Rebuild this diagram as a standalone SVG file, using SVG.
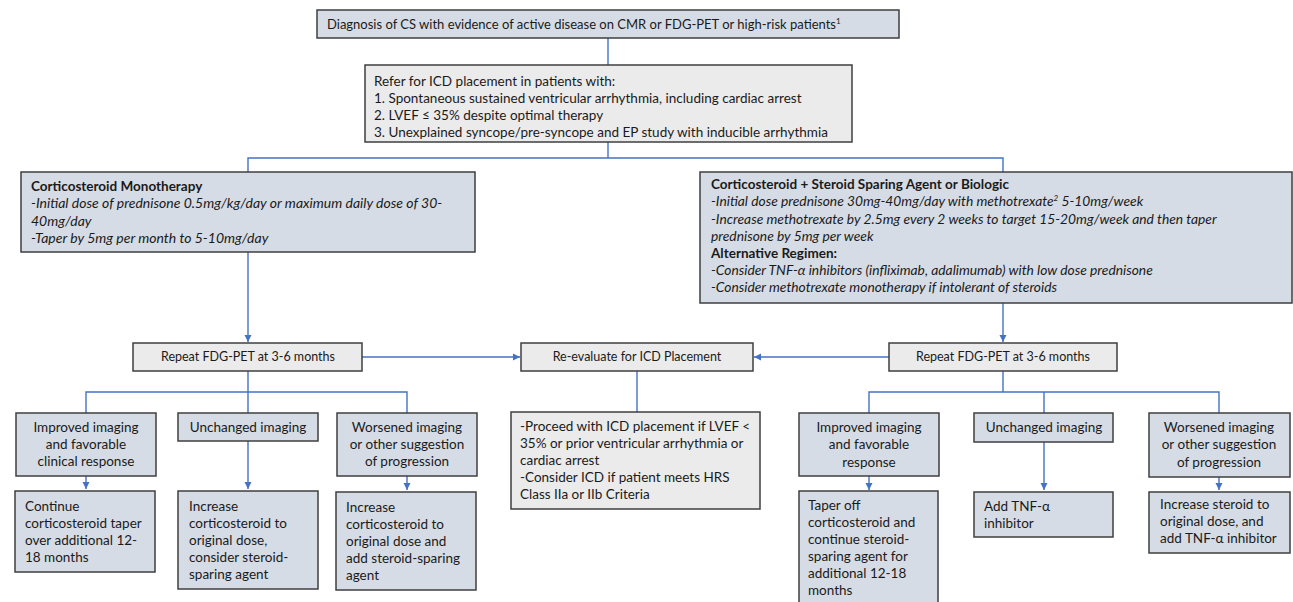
<svg xmlns="http://www.w3.org/2000/svg" width="1293" height="602" viewBox="0 0 1293 602">
<defs>
<marker id="arr" markerUnits="userSpaceOnUse" markerWidth="8" markerHeight="8" refX="7" refY="4" orient="auto">
<path d="M0,0.5 L7,4 L0,7.5 Z" fill="#4472C4"/>
</marker>
<style>
text{font-family:Lato,"Liberation Sans",sans-serif;font-size:12.5px;fill:#1a1a1a}
.blue{fill:#D6DCE5;stroke:#3F3F3F;stroke-width:1.5}
.gray{fill:#EBEBEB;stroke:#3F3F3F;stroke-width:1.5}
.c{text-anchor:middle}
.i{font-style:italic}
.b{font-weight:bold}
.lg{font-size:13.5px}
.top{font-size:13px}
.sup{font-size:8px}
#mono .i{font-size:14px}
#combo .i{font-size:13.8px}
#connectors path{fill:none;stroke:#4472C4;stroke-width:1.4}
</style>
</defs>
<rect width="1293" height="602" fill="#FFFFFF"/>
<g id="connectors">
<path d="M608 38 V65"/>
<path d="M608 142 V158 M248 172 V158 H1003 V172"/>
<path d="M248 251 V342" marker-end="url(#arr)"/>
<path d="M1003 303 V342" marker-end="url(#arr)"/>
<path d="M362 357 H520" marker-end="url(#arr)"/>
<path d="M889 357 H754" marker-end="url(#arr)"/>
<path d="M637 371 V412"/>
<path d="M248 371 V413 M86 413 V392 H407 V413"/>
<path d="M86 476 V489" marker-end="url(#arr)"/>
<path d="M248 441 V489" marker-end="url(#arr)"/>
<path d="M407 476 V490" marker-end="url(#arr)"/>
<path d="M1003 371 V392 M869 413 V392 H1219 V413 M1044 392 V413"/>
<path d="M869 476 V490" marker-end="url(#arr)"/>
<path d="M1044 442 V490" marker-end="url(#arr)"/>
<path d="M1219 477 V490" marker-end="url(#arr)"/>
</g>
<g id="diagnosis">
<rect class="blue" x="317" y="10" width="582" height="28"/>
<text class="top" x="327" y="29">Diagnosis of CS with evidence of active disease on CMR or FDG-PET or high-risk patients<tspan class="sup" dy="-5">1</tspan></text>
</g>
<g id="refer-icd">
<rect class="gray" x="365" y="65" width="487" height="77"/>
<text class="lg" x="374" y="86">Refer for ICD placement in patients with:</text>
<text class="lg" x="374" y="103">1. Spontaneous sustained ventricular arrhythmia, including cardiac arrest</text>
<text class="lg" x="374" y="120">2. LVEF ≤ 35% despite optimal therapy</text>
<text class="lg" x="374" y="137">3. Unexplained syncope/pre-syncope  and EP study with inducible arrhythmia</text>
</g>
<g id="mono">
<rect class="blue" x="21" y="172" width="454" height="80"/>
<text class="b lg" x="31" y="191">Corticosteroid Monotherapy</text>
<text class="i" x="31" y="208">-Initial dose of prednisone 0.5mg/kg/day or maximum daily dose of 30-</text>
<text class="i" x="31" y="226">40mg/day</text>
<text class="i" x="31" y="243">-Taper by 5mg per month to 5-10mg/day</text>
</g>
<g id="combo">
<rect class="blue" x="700" y="172" width="592" height="131"/>
<text class="b lg" x="711" y="189">Corticosteroid + Steroid Sparing Agent or Biologic</text>
<text class="i" x="711" y="206">-Initial dose prednisone 30mg-40mg/day  with methotrexate<tspan class="sup" dy="-5">2</tspan><tspan dy="5"> 5-10mg/week</tspan></text>
<text class="i" x="711" y="224">-Increase methotrexate by 2.5mg every 2 weeks to target 15-20mg/week and then taper</text>
<text class="i" x="711" y="241">prednisone by 5mg per week</text>
<text class="b lg" x="711" y="258">Alternative Regimen:</text>
<text class="i" x="711" y="275">-Consider TNF-α inhibitors (infliximab,  adalimumab) with low dose prednisone</text>
<text class="i" x="711" y="292">-Consider methotrexate monotherapy if intolerant of steroids</text>
</g>
<g id="repeat-left">
<rect class="gray" x="133" y="343" width="229" height="28"/>
<text class="c" x="248" y="361">Repeat FDG-PET at 3-6 months</text>
</g>
<g id="reevaluate">
<rect class="gray" x="521" y="343" width="232" height="28"/>
<text class="c" x="637" y="361">Re-evaluate for ICD Placement</text>
</g>
<g id="repeat-right">
<rect class="gray" x="889" y="343" width="228" height="28"/>
<text class="c" x="1003" y="361">Repeat FDG-PET at 3-6 months</text>
</g>
<g id="l-improved">
<rect class="blue" x="16" y="413" width="140" height="63"/>
<text class="c lg" x="86" y="432">Improved imaging</text>
<text class="c lg" x="86" y="449">and favorable</text>
<text class="c lg" x="86" y="466">clinical response</text>
</g>
<g id="l-unchanged">
<rect class="blue" x="178" y="413" width="140" height="28"/>
<text class="c lg" x="248" y="432">Unchanged imaging</text>
</g>
<g id="l-worsened">
<rect class="blue" x="337" y="413" width="140" height="63"/>
<text class="c lg" x="407" y="432">Worsened imaging</text>
<text class="c lg" x="407" y="449">or other suggestion</text>
<text class="c lg" x="407" y="466">of progression</text>
</g>
<g id="l-continue">
<rect class="blue" x="15" y="491" width="140" height="81"/>
<text class="lg" x="25" y="511">Continue</text>
<text class="lg" x="25" y="528">corticosteroid taper</text>
<text class="lg" x="25" y="545">over additional 12-</text>
<text class="lg" x="25" y="562">18 months</text>
</g>
<g id="l-increase">
<rect class="blue" x="178" y="491" width="140" height="98"/>
<text class="lg" x="189" y="511">Increase</text>
<text class="lg" x="189" y="528">corticosteroid to</text>
<text class="lg" x="189" y="545">original dose,</text>
<text class="lg" x="189" y="562">consider steroid-</text>
<text class="lg" x="189" y="579">sparing agent</text>
</g>
<g id="l-increase-add">
<rect class="blue" x="336" y="492" width="140" height="98"/>
<text class="lg" x="346" y="512">Increase</text>
<text class="lg" x="346" y="529">corticosteroid to</text>
<text class="lg" x="346" y="546">original dose and</text>
<text class="lg" x="346" y="563">add steroid-sparing</text>
<text class="lg" x="346" y="580">agent</text>
</g>
<g id="proceed">
<rect class="gray" x="511" y="412" width="249" height="97"/>
<text class="lg" x="520" y="431">-Proceed with ICD placement if LVEF &lt;</text>
<text class="lg" x="520" y="448">35% or prior ventricular arrhythmia or</text>
<text class="lg" x="520" y="465">cardiac arrest</text>
<text class="lg" x="520" y="482">-Consider  ICD if patient meets HRS</text>
<text class="lg" x="520" y="499">Class IIa or IIb Criteria</text>
</g>
<g id="r-improved">
<rect class="blue" x="799" y="413" width="140" height="63"/>
<text class="c lg" x="869" y="432">Improved imaging</text>
<text class="c lg" x="869" y="449">and favorable</text>
<text class="c lg" x="869" y="467">response</text>
</g>
<g id="r-unchanged">
<rect class="blue" x="974" y="413" width="139" height="29"/>
<text class="c lg" x="1044" y="432">Unchanged imaging</text>
</g>
<g id="r-worsened">
<rect class="blue" x="1149" y="413" width="141" height="64"/>
<text class="c lg" x="1219" y="432">Worsened imaging</text>
<text class="c lg" x="1219" y="449">or other suggestion</text>
<text class="c lg" x="1219" y="467">of progression</text>
</g>
<g id="r-taper">
<rect class="blue" x="799" y="491" width="139" height="115"/>
<text class="lg" x="808" y="510">Taper off</text>
<text class="lg" x="808" y="527">corticosteroid and</text>
<text class="lg" x="808" y="544">continue steroid-</text>
<text class="lg" x="808" y="561">sparing agent for</text>
<text class="lg" x="808" y="578">additional 12-18</text>
<text class="lg" x="808" y="595">months</text>
</g>
<g id="r-add-tnf">
<rect class="blue" x="974" y="492" width="139" height="45"/>
<text class="lg" x="984" y="511">Add TNF-α</text>
<text class="lg" x="984" y="528">inhibitor</text>
</g>
<g id="r-increase">
<rect class="blue" x="1149" y="492" width="141" height="61"/>
<text class="lg" x="1160" y="509">Increase steroid to</text>
<text class="lg" x="1160" y="526">original dose, and</text>
<text class="lg" x="1160" y="543">add TNF-α inhibitor</text>
</g>
</svg>
